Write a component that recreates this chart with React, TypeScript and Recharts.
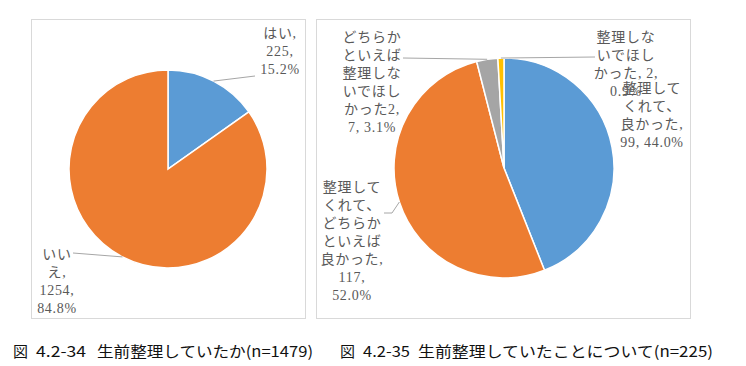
import { PieChart, Pie, Cell } from "recharts";

// 図 4.2-34
const q1Names = ["はい", "いいえ"];
const q1Values = [225, 1254];
const q1Colors = ["#5b9bd5", "#ed7d31"];

// 図 4.2-35
const q2Names = [
  "整理してくれて、良かった",
  "整理してくれて、どちらかといえば良かった",
  "どちらかといえば整理しないでほしかった2",
  "整理しないでほしかった",
];
const q2Values = [99, 117, 7, 2];
const q2Colors = ["#5b9bd5", "#ed7d31", "#a5a5a5", "#ffc000"];

const captions = [
  { fig: "4.2-34", title: "生前整理していたか(n=1479)" },
  { fig: "4.2-35", title: "生前整理していたことについて(n=225)" },
];

// label block centres and leader line points, relative to the pie centre
const q1LabelLayout = [
  { dx: 112, dy: -118, line: [[87, -93]] },
  { dx: -111, dy: 112, line: [[-95, 84]] },
];
const q2LabelLayout = [
  { dx: 148, dy: -53, line: [] },
  { dx: -152, dy: 73.5, line: [[-112, 45], [-120, 45]] },
  { dx: -132, dy: -85.5, line: [[-101, -110]] },
  { dx: 122, dy: -103.5, line: [[91, -111]] },
];

const RAD = Math.PI / 180;
const labelFont = "'Liberation Serif', 'Noto Sans CJK JP', serif";
const capFont = "'Noto Sans CJK JP', sans-serif";

function charWidth(ch: string) {
  if (ch.charCodeAt(0) > 0x2e80) return 1;
  if (ch === "," || ch === " " || ch === ".") return 0.25;
  if (ch === "%") return 0.8;
  return 0.5;
}

// greedy wrap like Excel's data label boxes
function wrap(text: string, maxW: number) {
  const tokens: string[] = [];
  let run = "";
  for (const ch of text) {
    if (ch === " " || ch.charCodeAt(0) > 0x2e80) {
      if (run) tokens.push(run);
      run = "";
      tokens.push(ch);
    } else run += ch;
  }
  if (run) tokens.push(run);
  const w = (s: string) => [...s].reduce((a, c) => a + charWidth(c), 0);
  const lines: string[] = [];
  let cur = "";
  for (const t of tokens) {
    if (t === " ") {
      if (cur) cur += t;
      continue;
    }
    if (!cur || w(cur + t) <= maxW) cur += t;
    else {
      lines.push(cur.trim());
      cur = t;
    }
  }
  if (cur.trim()) lines.push(cur.trim());
  return lines;
}

function makeLabel(
  layout: { dx: number; dy: number; line: number[][] }[],
  total: number,
  maxW: number
) {
  return (props: any) => {
    const { cx, cy, midAngle, outerRadius, index, name, value } = props;
    const lay = layout[index];
    const ex = cx + outerRadius * Math.cos(-midAngle * RAD);
    const ey = cy + outerRadius * Math.sin(-midAngle * RAD);
    const pct = ((value / total) * 100).toFixed(1);
    const lines = wrap(`${name}, ${value}, ${pct}%`, maxW);
    const lh = 18;
    const pts = [[ex, ey], ...lay.line.map(([x, y]) => [cx + x, cy + y])];
    return (
      <g key={`lbl-${index}`}>
        {lay.line.length > 0 && (
          <polyline
            points={pts.map((p) => p.join(",")).join(" ")}
            fill="none"
            stroke="#a6a6a6"
            strokeWidth={1}
          />
        )}
        {lines.map((ln, i) => (
          <text
            key={i}
            x={cx + lay.dx}
            y={cy + lay.dy + (i - (lines.length - 1) / 2) * lh}
            textAnchor="middle"
            dominantBaseline="central"
            fontFamily={labelFont}
            fontSize={14}
            letterSpacing={0.7}
            fill="#595959"
          >
            {ln}
          </text>
        ))}
      </g>
    );
  };
}

const q1Data = q1Names.map((name, i) => ({ name, value: q1Values[i] }));
const q2Data = q2Names.map((name, i) => ({ name, value: q2Values[i] }));
const q1Total = q1Values.reduce((a, b) => a + b, 0);
const q2Total = q2Values.reduce((a, b) => a + b, 0);

const panel = {
  position: "absolute" as const,
  border: "1px solid #d9d9d9",
  boxSizing: "border-box" as const,
  background: "#fff",
};

export default function App() {
  return (
    <div
      style={{
        position: "absolute",
        left: 0,
        top: 0,
        width: 746,
        height: 366,
        background: "#fff",
        overflow: "hidden",
      }}
    >
      <div style={{ ...panel, left: 31, top: 19, width: 275, height: 300 }}>
        <PieChart
          width={273}
          height={298}
          margin={{ top: 0, right: 0, bottom: 0, left: 0 }}
          style={{ overflow: "visible" }}
        >
          <Pie
            data={q1Data}
            dataKey="value"
            nameKey="name"
            cx={136}
            cy={149}
            outerRadius={99}
            startAngle={90}
            endAngle={-270}
            stroke="#fff"
            strokeWidth={1.5}
            labelLine={false}
            label={makeLabel(q1LabelLayout, q1Total, 2.6)}
            isAnimationActive={false}
          >
            {q1Data.map((_, i) => (
              <Cell key={`c1-${i}`} fill={q1Colors[i]} />
            ))}
          </Pie>
        </PieChart>
      </div>

      <div style={{ ...panel, left: 316, top: 19, width: 375, height: 300 }}>
        <PieChart
          width={373}
          height={298}
          margin={{ top: 0, right: 0, bottom: 0, left: 0 }}
          style={{ overflow: "visible" }}
        >
          <Pie
            data={q2Data}
            dataKey="value"
            nameKey="name"
            cx={187}
            cy={148}
            outerRadius={110}
            startAngle={90}
            endAngle={-270}
            stroke="#fff"
            strokeWidth={1.5}
            labelLine={false}
            label={makeLabel(q2LabelLayout, q2Total, 4.5)}
            isAnimationActive={false}
          >
            {q2Data.map((_, i) => (
              <Cell key={`c2-${i}`} fill={q2Colors[i]} />
            ))}
          </Pie>
        </PieChart>
      </div>

      <svg
        width={746}
        height={366}
        style={{ position: "absolute", left: 0, top: 0, pointerEvents: "none" }}
      >
        {captions.map((c, i) => {
          const x0 = i === 0 ? 13 : 340;
          const figW = i === 0 ? 50 : 47;
          const titleX = i === 0 ? 97 : 418;
          const titleW = i === 0 ? 216 : 295;
          return (
            <g key={c.fig} fontFamily={capFont} fontSize={15} fill="#111">
              <text x={x0} y={350} dominantBaseline="central">
                図
              </text>
              <text
                x={x0 + 23}
                y={350}
                dominantBaseline="central"
                textLength={figW}
                lengthAdjust="spacingAndGlyphs"
              >
                {c.fig}
              </text>
              <text
                x={titleX}
                y={350}
                dominantBaseline="central"
                textLength={titleW}
                lengthAdjust="spacingAndGlyphs"
              >
                {c.title}
              </text>
            </g>
          );
        })}
      </svg>
    </div>
  );
}
